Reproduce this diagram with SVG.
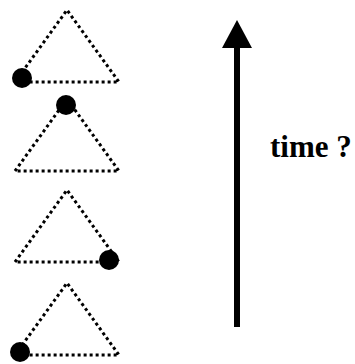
<svg xmlns="http://www.w3.org/2000/svg" width="355" height="364" viewBox="0 0 355 364">
<defs>
<style>
.tri{fill:none;stroke:#000;stroke-width:3;stroke-dasharray:3 3}
.dot{fill:#000}
.lbl{font-family:"Liberation Serif","Times New Roman",serif;font-weight:bold;font-size:31px;fill:#000}
</style>
</defs>
<g id="state1" transform="translate(0,10)">
<path class="tri" d="M15,72 L67,0 L119,72 Z"/>
<circle class="dot" cx="22" cy="68" r="10"/>
</g>
<g id="state2" transform="translate(0,99)">
<path class="tri" d="M15,72 L67,0 L119,72 Z"/>
<circle class="dot" cx="66" cy="6" r="10"/>
</g>
<g id="state3" transform="translate(0,190)">
<path class="tri" d="M15,72 L67,0 L119,72 Z"/>
<circle class="dot" cx="109" cy="70" r="10"/>
</g>
<g id="state4" transform="translate(0,283)">
<path class="tri" d="M15,72 L67,0 L119,72 Z"/>
<circle class="dot" cx="20" cy="69" r="10"/>
</g>
<g id="connectors">
<line x1="237" y1="327" x2="237" y2="48" stroke="#000" stroke-width="6"/>
<path d="M237,20 L252,48 L222,48 Z" fill="#000"/>
</g>
<g id="label">
<text class="lbl" x="270" y="157">time ?</text>
</g>
</svg>
